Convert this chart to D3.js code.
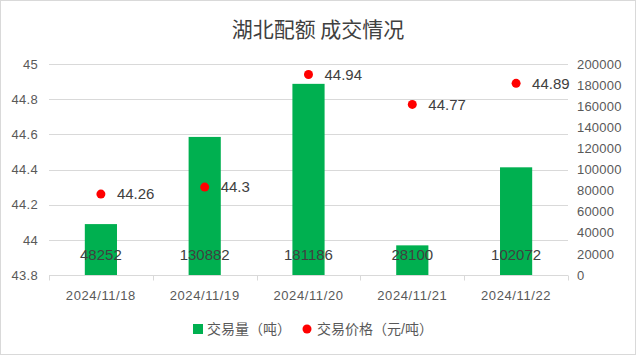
<!DOCTYPE html>
<html>
<head>
<meta charset="utf-8">
<script src="https://cdn.jsdelivr.net/npm/d3@7"></script>
<style>
  body { margin: 0; background: #fff; }
  svg text { font-family: "Liberation Sans", "Noto Sans CJK SC", sans-serif; }
</style>
</head>
<body>
<div id="chart"></div>
<script>
const dates = ["2024/11/18", "2024/11/19", "2024/11/20", "2024/11/21", "2024/11/22"];
const volumes = [48252, 130882, 181186, 28100, 102072];
const prices = [44.26, 44.3, 44.94, 44.77, 44.89];
const priceTicks = [43.8, 44, 44.2, 44.4, 44.6, 44.8, 45];
const volumeTicks = [0, 20000, 40000, 60000, 80000, 100000, 120000, 140000, 160000, 180000, 200000];

const width = 636;
const height = 355;
const plot = { left: 49, right: 568, top: 64, bottom: 275 };
const green = "#00B050";
const red = "#FF0000";
const labelColor = "#595959";

const svg = d3.select("#chart")
	.append("svg")
	.attr("width", width)
	.attr("height", height);

svg.append("rect")
	.attr("x", 0.5).attr("y", 0.5)
	.attr("width", width - 1).attr("height", height - 1)
	.attr("fill", "#fff")
	.attr("stroke", "#d9d9d9");

svg.append("text")
	.attr("x", width / 2)
	.attr("y", 37)
	.attr("text-anchor", "middle")
	.attr("font-size", 21)
	.attr("fill", "#404040")
	.style("font-family", "'Noto Sans CJK SC', sans-serif")
	.text("湖北配额 成交情况");

const x = d3.scaleBand()
	.domain(dates)
	.range([plot.left, plot.right])
	.paddingInner(0.69)
	.paddingOuter(0.345);

const yPrice = d3.scaleLinear()
	.domain([43.8, 45])
	.range([plot.bottom, plot.top]);

const yVol = d3.scaleLinear()
	.domain([0, 200000])
	.range([plot.bottom, plot.top]);

// gridlines
svg.append("g")
	.selectAll("line")
	.data(priceTicks.slice(1))
	.join("line")
	.attr("x1", plot.left)
	.attr("x2", plot.right)
	.attr("y1", d => Math.round(yPrice(d)) + 0.5)
	.attr("y2", d => Math.round(yPrice(d)) + 0.5)
	.attr("stroke", "#d9d9d9");

// left axis
const leftAxis = svg.append("g")
	.attr("transform", `translate(${plot.left - 11},0)`)
	.call(d3.axisLeft(yPrice).tickValues(priceTicks).tickSize(0).tickPadding(0).tickFormat(d3.format("")));
leftAxis.select(".domain").remove();
leftAxis.selectAll("text")
	.attr("font-size", 13)
	.attr("fill", labelColor)
	.style("letter-spacing", "0.3px")
	.style("font-family", "'Liberation Sans', sans-serif");

// right axis
const rightAxis = svg.append("g")
	.attr("transform", `translate(${plot.right + 9},0)`)
	.call(d3.axisRight(yVol).tickValues(volumeTicks).tickSize(0).tickPadding(0).tickFormat(d3.format("d")));
rightAxis.select(".domain").remove();
rightAxis.selectAll("text")
	.attr("font-size", 13)
	.attr("fill", labelColor)
	.style("letter-spacing", "0.2px")
	.style("font-family", "'Liberation Sans', sans-serif");

// bars
svg.append("g")
	.selectAll("rect")
	.data(volumes)
	.join("rect")
	.attr("x", (d, i) => x(dates[i]))
	.attr("width", x.bandwidth())
	.attr("y", d => yVol(d))
	.attr("height", d => yVol(0) - yVol(d))
	.attr("fill", green);

// bar labels
svg.append("g")
	.selectAll("text")
	.data(volumes)
	.join("text")
	.attr("x", (d, i) => x(dates[i]) + x.bandwidth() / 2)
	.attr("y", 255)
	.attr("dy", "0.35em")
	.attr("text-anchor", "middle")
	.attr("font-size", 15)
	.attr("fill", "#404040")
	.text(d => d);

// bottom axis
const bottomAxis = svg.append("g")
	.attr("transform", `translate(0,${plot.bottom + 0.5})`);
bottomAxis.append("line")
	.attr("x1", plot.left).attr("x2", plot.right)
	.attr("stroke", "#d9d9d9");
const step = x.step();
bottomAxis.selectAll(".tk")
	.data(d3.range(dates.length + 1))
	.join("line")
	.attr("class", "tk")
	.attr("x1", i => Math.round(plot.left + i * step) + 0.5)
	.attr("x2", i => Math.round(plot.left + i * step) + 0.5)
	.attr("y1", 0).attr("y2", 5)
	.attr("stroke", "#d9d9d9");
bottomAxis.selectAll("text")
	.data(dates)
	.join("text")
	.attr("x", d => x(d) + x.bandwidth() / 2)
	.attr("y", 20)
	.attr("dy", "0.35em")
	.attr("text-anchor", "middle")
	.attr("font-size", 13)
	.attr("fill", labelColor)
	.style("letter-spacing", "0.6px")
	.text(d => d);

// price dots
svg.append("g")
	.selectAll("circle")
	.data(prices)
	.join("circle")
	.attr("cx", (d, i) => x(dates[i]) + x.bandwidth() / 2)
	.attr("cy", d => yPrice(d))
	.attr("r", 4.5)
	.attr("fill", red);

svg.append("g")
	.selectAll("text")
	.data(prices)
	.join("text")
	.attr("x", (d, i) => x(dates[i]) + x.bandwidth() / 2 + 16)
	.attr("y", d => yPrice(d))
	.attr("dy", "0.35em")
	.attr("font-size", 15)
	.attr("fill", "#404040")
	.text(d => d);

// legend
const legend = svg.append("g")
	.attr("transform", "translate(0,329)")
	.style("font-family", "'Noto Sans CJK SC', sans-serif");
legend.append("rect")
	.attr("x", 193).attr("y", -5)
	.attr("width", 10).attr("height", 10)
	.attr("fill", green);
legend.append("text")
	.attr("x", 207).attr("dy", "0.35em")
	.attr("font-size", 14)
	.attr("fill", labelColor)
	.text("交易量（吨）");
legend.append("circle")
	.attr("cx", 307).attr("r", 4.5)
	.attr("fill", red);
legend.append("text")
	.attr("x", 317).attr("dy", "0.35em")
	.attr("font-size", 14)
	.attr("fill", labelColor)
	.text("交易价格（元/吨）");
</script>
</body>
</html>
